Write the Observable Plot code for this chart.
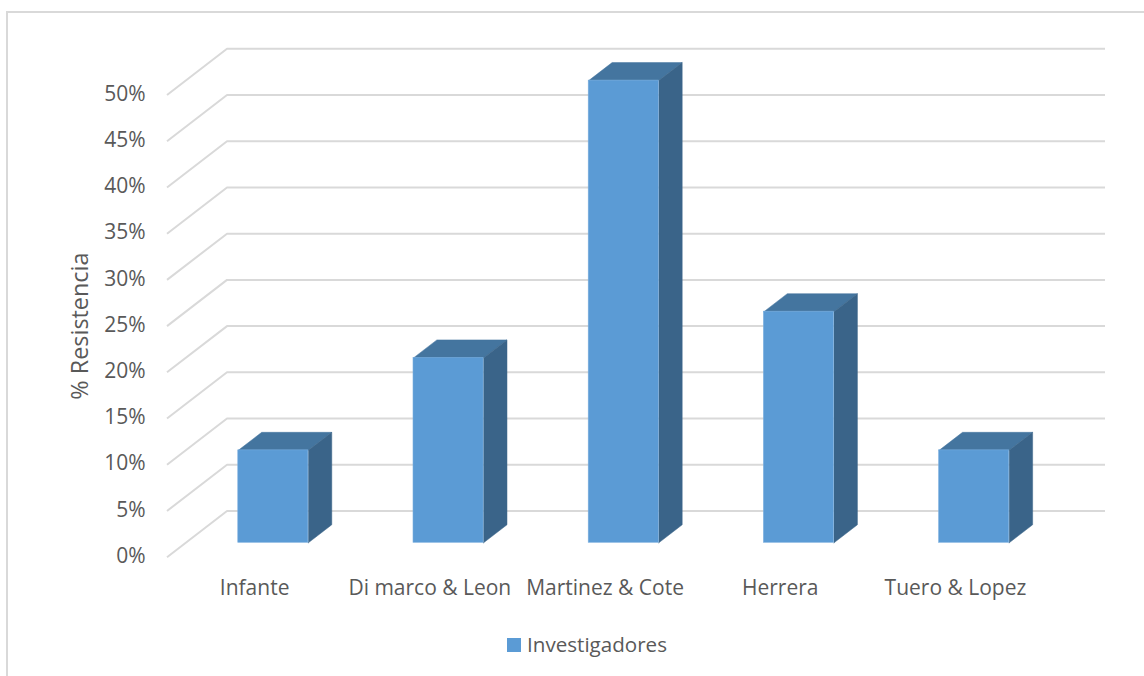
<!DOCTYPE html>
<html>
<head>
<meta charset="utf-8">
<script src="https://cdn.jsdelivr.net/npm/d3@7"></script>
<script src="https://cdn.jsdelivr.net/npm/@observablehq/plot@0.6"></script>
<style>
  html, body { margin: 0; padding: 0; background: #fff; overflow: hidden; }
  #frame {
    position: absolute; left: 6px; top: 11px; width: 1200px; height: 700px;
    border: 2px solid #d9d9d9; box-sizing: border-box;
  }
  #chart { position: absolute; left: 0; top: 0; }
  #legend {
    position: absolute; left: 507px; top: 630px; display: flex; align-items: center;
    font: 20.6px "Open Sans", sans-serif; color: #595959; line-height: 28px;
  }
  #legend i { display: block; width: 14px; height: 14px; background: #5b9bd5; margin-right: 6px; margin-top: 2px; }
</style>
</head>
<body>
<div id="frame"></div>
<div id="chart"></div>
<div id="legend"><i></i><span>Investigadores</span></div>
<script>
// Resistance reported by each group of authors
const investigadores = ["Infante", "Di marco & Leon", "Martinez & Cote", "Herrera", "Tuero & Lopez"];
const resistencia = [10, 20, 50, 25, 10];
const yTicks = [0, 5, 10, 15, 20, 25, 30, 35, 40, 45, 50];

// Oblique projection: one full unit of depth moves a point right along x and up along y
const depthX = 0.3425;   // category units
const depthY = 5;        // percentage points
const project = (x, y, d) => ({x: x + d * depthX, y: y + d * depthY});

// Back wall length in category units
const wallWidth = 5.011;

// Column placement inside the floor depth
const barFront = 0.312, barBack = 0.702, barWidth = 0.4;

// Walls: each gridline runs from the front edge to the back wall, then across it
const gridLines = yTicks.flatMap((v) => [
  {v, ...project(0, v, 0)},
  {v, ...project(0, v, 1)},
  {v, ...project(wallWidth, v, 1)}
]);

const bars = investigadores.map((name, i) => ({
  name,
  value: resistencia[i],
  x1: i + 0.5 - barWidth / 2,
  x2: i + 0.5 + barWidth / 2
}));

const polygon = (b, face, corners) =>
  corners.map(([x, y, d]) => ({key: b.name + face, ...project(x, y, d)}));

const topFaces = bars.flatMap((b) => polygon(b, "top", [
  [b.x1, b.value, barFront], [b.x2, b.value, barFront],
  [b.x2, b.value, barBack], [b.x1, b.value, barBack], [b.x1, b.value, barFront]
]));
const sideFaces = bars.flatMap((b) => polygon(b, "side", [
  [b.x2, 0, barFront], [b.x2, 0, barBack],
  [b.x2, b.value, barBack], [b.x2, b.value, barFront], [b.x2, 0, barFront]
]));
const frontFaces = bars.map((b) => {
  const p = project(b.x1, 0, barFront), q = project(b.x2, b.value, barFront);
  return {x1: p.x, x2: q.x, y1: p.y, y2: q.y};
});

const font = '"Open Sans", sans-serif';

const chart = Plot.plot({
  width: 1144,
  height: 620,
  marginLeft: 166,
  marginRight: 39,
  marginTop: 48,
  marginBottom: 63,
  style: {fontFamily: font, fontSize: "21px", color: "#595959", background: "transparent"},
  x: {type: "linear", domain: [0, wallWidth + depthX], range: [166.5, 1104.5]},
  y: {type: "linear", domain: [0, 55], range: [556.7, 48.3]},
  marks: [
    Plot.line(gridLines, {x: "x", y: "y", z: "v", stroke: "#d9d9d9", strokeWidth: 2, strokeLinejoin: "miter", strokeLinecap: "butt"}),
    Plot.line(topFaces, {x: "x", y: "y", z: "key", fill: "#44759f", stroke: "#44759f", strokeWidth: 0.5}),
    Plot.line(sideFaces, {x: "x", y: "y", z: "key", fill: "#3a6489", stroke: "#3a6489", strokeWidth: 0.5}),
    Plot.rect(frontFaces, {x1: "x1", x2: "x2", y1: "y1", y2: "y2", fill: "#5b9bd5", stroke: "#7aaede", strokeWidth: 0.6}),
    Plot.axisY({
      anchor: "left", ticks: yTicks, tickSize: 0, tickPadding: 21, label: null,
      tickFormat: (d) => d + "%", fontSize: 21, fill: "#595959", dy: -1
    }),
    Plot.axisX({
      anchor: "bottom", ticks: investigadores.map((_, i) => i + 0.5), tickSize: 0, tickPadding: 23, label: null,
      tickFormat: (d) => investigadores[Math.floor(d)], fontSize: 21, fill: "#595959"
    }),
    Plot.text(["% Resistencia"], {
      y: [25], frameAnchor: "left", dx: -86, rotate: -90, fontSize: 23.4, fill: "#595959", textAnchor: "middle"
    })
  ]
});
document.getElementById("chart").append(chart);
</script>
</body>
</html>
